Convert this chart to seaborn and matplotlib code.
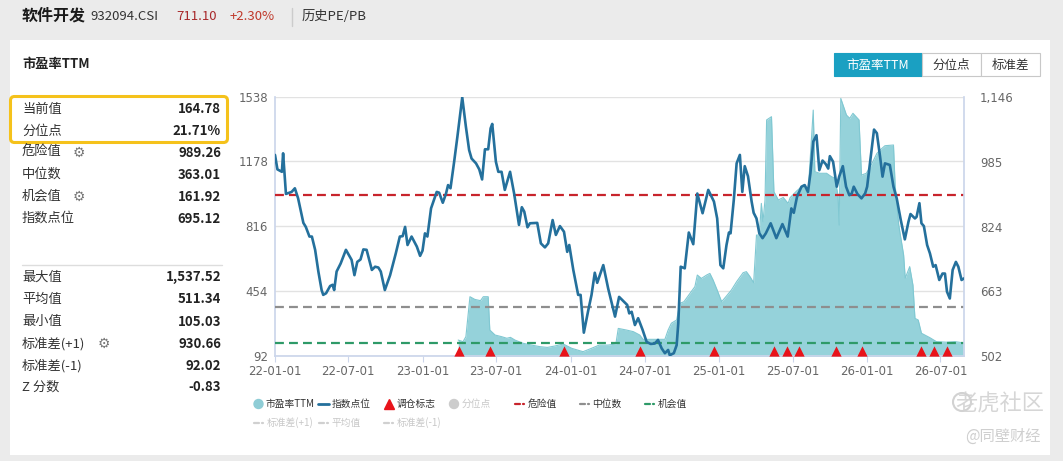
import numpy as np
import pandas as pd
import matplotlib
matplotlib.use("Agg")
import matplotlib.pyplot as plt
import matplotlib.dates as mdates
import matplotlib.transforms as mtransforms
from matplotlib.patches import Rectangle, FancyBboxPatch, Circle
import seaborn as sns

# ---------------- data ----------------
start_date = "2022-01-01"
end_day = 1700  # days after start covered by the x axis

idx_day = [0, 6, 17, 20, 27, 41, 49, 57, 70, 76, 85, 91, 99, 107, 115, 119, 126, 136, 142, 146,
           152, 162, 175, 189, 196, 203, 211, 218, 226, 239, 247, 255, 261, 271, 284, 298, 308, 315,
           321, 327, 337, 350, 358, 364, 370, 376, 385, 399, 405, 414, 422, 427, 433, 442, 450, 462,
           471, 479, 485, 496, 504, 511, 518, 526, 532, 536, 545, 551, 559, 567, 580, 590, 602, 609,
           615, 623, 629, 647, 656, 666, 674, 685, 693, 703, 713, 721, 726, 736, 748, 754, 762, 773,
           781, 789, 795, 810, 822, 839, 849, 861, 869, 874, 880, 888, 896, 907, 917, 927, 937, 945,
           954, 962, 970, 974, 984, 991, 995, 1001, 1011, 1021, 1032, 1042, 1055, 1069, 1083, 1091,
           1099, 1106, 1114, 1120, 1124, 1132, 1139, 1147, 1153, 1159, 1167, 1176, 1181, 1188, 1195,
           1203, 1211, 1223, 1237, 1252, 1265, 1274, 1280, 1288, 1299, 1307, 1315, 1321, 1328, 1336,
           1343, 1351, 1359, 1365, 1369, 1377, 1386, 1392, 1401, 1409, 1417, 1423, 1428, 1437, 1447,
           1456, 1461, 1470, 1478, 1485, 1493, 1499, 1505, 1517, 1526, 1534, 1544, 1554, 1563, 1568,
           1579, 1583, 1590, 1595, 1601, 1609, 1616, 1624, 1630, 1639, 1647, 1653, 1658, 1665, 1672,
           1680, 1686, 1694, 1700]
idx_val = [1002, 966, 960, 1006, 905, 910, 919, 894, 833, 823, 799, 799, 766, 712, 666, 654, 658, 676,
           679, 666, 712, 732, 766, 741, 703, 736, 742, 767, 766, 716, 724, 722, 712, 666, 703, 757,
           799, 800, 823, 778, 799, 774, 751, 764, 807, 799, 869, 910, 908, 883, 906, 927, 919, 985,
           1047, 1145, 1072, 1014, 993, 981, 966, 941, 1016, 1016, 1068, 1079, 985, 960, 960, 915,
           960, 906, 828, 872, 861, 822, 832, 833, 782, 772, 782, 840, 803, 825, 811, 761, 778, 716,
           654, 654, 560, 616, 654, 709, 684, 728, 670, 600, 649, 637, 629, 608, 612, 579, 596, 567,
           537, 532, 533, 542, 521, 509, 517, 504, 509, 529, 583, 724, 720, 809, 780, 906, 857, 915,
           886, 844, 728, 720, 778, 809, 807, 890, 981, 1002, 910, 974, 949, 886, 858, 844, 807, 795,
           807, 832, 795, 830, 799, 869, 858, 898, 923, 927, 910, 956, 1035, 1051, 964, 988, 979, 968,
           999, 985, 923, 948, 974, 923, 902, 906, 923, 905, 894, 906, 923, 997, 1065, 1056, 997, 948,
           981, 977, 923, 894, 840, 792, 836, 855, 844, 848, 882, 832, 825, 778, 757, 724, 728, 691,
           707, 707, 662, 645, 716, 736, 724, 691, 695]

pe_day = [452, 464, 471, 481, 493, 507, 514, 526, 530, 543, 559, 572, 581, 592, 612, 633, 654, 672,
          691, 711, 732, 760, 781, 800, 822, 841, 847, 867, 884, 900, 908, 950, 962, 970, 978, 991,
          999, 1009, 1024, 1036, 1042, 1052, 1065, 1073, 1081, 1091, 1102, 1114, 1126, 1139, 1155,
          1163, 1172, 1181, 1188, 1195, 1200, 1204, 1209, 1213, 1225, 1231, 1242, 1254, 1266, 1271,
          1287, 1304, 1315, 1328, 1332, 1344, 1361, 1373, 1381, 1389, 1392, 1396, 1410, 1418, 1426,
          1441, 1447, 1459, 1471, 1485, 1493, 1505, 1526, 1530, 1539, 1551, 1555, 1566, 1574, 1579,
          1587, 1595, 1616, 1632, 1657, 1678, 1700]
pe_val = [181, 172, 200, 423, 408, 401, 423, 423, 237, 209, 200, 191, 196, 181, 163, 153, 144, 140,
          148, 159, 135, 116, 135, 153, 153, 159, 246, 237, 228, 209, 185, 185, 185, 237, 275, 293,
          386, 395, 442, 479, 544, 525, 544, 553, 516, 460, 395, 427, 460, 507, 557, 563, 535, 501,
          767, 767, 944, 842, 963, 1410, 1428, 1009, 963, 977, 944, 976, 1013, 1047, 991, 1465, 1121,
          1112, 1112, 1093, 1085, 991, 823, 1530, 1437, 1419, 1447, 1410, 1102, 1112, 1158, 1223,
          1242, 1266, 1270, 1047, 823, 656, 526, 591, 488, 302, 293, 219, 194, 172, 169, 172, 165]

trade_day = [454, 530, 713, 900, 1083, 1230, 1264, 1292, 1384, 1448, 1593, 1627, 1658]

danger_val = 989.26
median_val = 363.01
chance_val = 161.92

pe_ticks = [92, 454, 816, 1178, 1538]
idx_ticks = [502, 663, 824, 985, 1146]
idx_tick_labels = ["502", "663", "824", "985", "1,146"]

stats_top = [("当前值", "164.78"), ("分位点", "21.71%"), ("危险值", "989.26"),
             ("中位数", "363.01"), ("机会值", "161.92"), ("指数点位", "695.12")]
stats_bottom = [("最大值", "1,537.52"), ("平均值", "511.34"), ("最小值", "105.03"),
                ("标准差(+1)", "930.66"), ("标准差(-1)", "92.02"), ("Z 分数", "-0.83")]

t0 = pd.Timestamp(start_date)
idx_df = pd.DataFrame({"date": t0 + pd.to_timedelta(idx_day, unit="D"), "value": idx_val})
pe_df = pd.DataFrame({"date": t0 + pd.to_timedelta(pe_day, unit="D"), "pe": pe_val})
trade_dates = t0 + pd.to_timedelta(trade_day, unit="D")

# ---------------- figure ----------------
sns.set_theme(style="white")
plt.rcParams['font.family'] = ['Noto Sans CJK SC', 'DejaVu Sans']

W, H = 1063, 461
fig = plt.figure(figsize=(W / 100, H / 100), dpi=100)
fig.patch.set_facecolor('#ebebeb')

# background/overlay axes in pixel coordinates
bg = fig.add_axes([0, 0, 1, 1], zorder=-1)
bg.set_xlim(0, W)
bg.set_ylim(H, 0)
bg.axis('off')
bg.add_patch(Rectangle((10, 40), 1040, 415, facecolor='white', edgecolor='none'))

TXT = '#333333'
# header
bg.text(22, 16, "软件开发", fontsize=11.5, fontweight='bold', color='#1a1a1a', va='center')
bg.text(90, 17, "932094.CSI", fontsize=9.5, color='#333333', va='center')
bg.text(176, 17, "711.10", fontsize=9.5, color='#a8282a', va='center')
bg.text(230, 17, "+2.30%", fontsize=9.5, color='#c0392b', va='center')
bg.plot([292, 292], [8, 26], color='#cccccc', lw=1)
bg.text(302, 17, "历史PE/PB", fontsize=9.5, color='#333333', va='center')

# panel title
bg.text(22, 64, "市盈率TTM", fontsize=9.5, fontweight='bold', color='#222222', va='center')

# buttons
btns = [("市盈率TTM", 833.5, 921.5, True), ("分位点", 921.5, 980.5, False), ("标准差", 980.5, 1040, False)]
for label, x0, x1, active in btns:
    bg.add_patch(Rectangle((x0, 53.5), x1 - x0, 22.5, facecolor='#1aa0c2' if active else 'white',
                           edgecolor='#1aa0c2' if active else '#c8c8c8', lw=0.8))
    bg.text((x0 + x1) / 2, 65, label, fontsize=9, color='white' if active else '#333333',
            ha='center', va='center')

# highlight box
bg.add_patch(FancyBboxPatch((10.5, 96.5), 217, 46, boxstyle="round,pad=0,rounding_size=4",
                            fill=False, ec='#f5c21b', lw=2.2))

ys_top = [109, 131, 152.5, 174.5, 196.5, 218.5]
ys_bot = [277, 299, 321.5, 343.5, 365.5, 387]
for (lab, val), y in zip(stats_top, ys_top):
    bg.text(22, y, lab, fontsize=9.5, color=TXT, va='center')
    bg.text(221, y, val, fontsize=9.5, color='#222222', fontweight='bold', va='center', ha='right')
for (lab, val), y in zip(stats_bottom, ys_bot):
    bg.text(22, y, lab, fontsize=9.5, color=TXT, va='center')
    bg.text(221, y, val, fontsize=9.5, color='#222222', fontweight='bold', va='center', ha='right')
for gx, gy in [(79, ys_top[2]), (79, ys_top[4]), (104, ys_bot[3])]:
    bg.text(gx, gy, "⚙", fontsize=10, color='#777777', va='center', ha='center', family='DejaVu Sans')
bg.plot([22, 222], [265, 265], color='#dddddd', lw=1)

# ---------------- chart ----------------
ax = fig.add_axes([275 / W, 1 - 356 / H, (964 - 275) / W, (356 - 97) / H])
ax.set_facecolor('white')
ax2 = ax.twinx()

fill_c = '#95d2da'
ax.fill_between(pe_df["date"], pe_df["pe"], 0, color=fill_c, alpha=1.0, lw=0, zorder=1)
sns.lineplot(data=pe_df, x="date", y="pe", ax=ax, color='#80c8d2', lw=0.8, zorder=2)

dash = (0, (4, 2.3))
ax.axhline(danger_val, color='#c8242c', lw=1.6, ls=dash, zorder=3)
ax.axhline(median_val, color='#8e8e8e', lw=1.6, ls=dash, zorder=3)
ax.axhline(chance_val, color='#2e9a68', lw=1.6, ls=dash, zorder=3)

sns.lineplot(data=idx_df, x="date", y="value", ax=ax2, color='#24709c', lw=1.9, zorder=4)

blend = mtransforms.blended_transform_factory(ax2.transData, ax2.transAxes)
ax2.scatter(mdates.date2num(trade_dates), np.full(len(trade_dates), 0.02), transform=blend,
            marker='^', s=55, color='#e8131a', lw=0, zorder=6, clip_on=False)

ax.set_xlim(t0, t0 + pd.Timedelta(days=end_day))
ax.set_ylim(pe_ticks[0], pe_ticks[-1])
ax.set_yticks(pe_ticks)
ax.set_yticklabels([str(v) for v in pe_ticks])
ax2.set_ylim(idx_ticks[0], idx_ticks[-1])
ax2.set_yticks(idx_ticks)
ax2.set_yticklabels(idx_tick_labels)

ax.xaxis.set_major_locator(mdates.MonthLocator(bymonth=[1, 7]))
ax.xaxis.set_major_formatter(mdates.DateFormatter('%y-%m-%d'))

for a in (ax, ax2):
    a.set_xlabel("")
    a.set_ylabel("")
    for s in a.spines.values():
        s.set_visible(False)
    a.grid(False)

ax.yaxis.grid(True, color='#e2e2e2', lw=1)
ax.set_axisbelow(True)
ax.spines['left'].set_visible(True)
ax.spines['left'].set_color('#ccd6eb')
ax.spines['bottom'].set_visible(True)
ax.spines['bottom'].set_color('#ccd6eb')
ax2.spines['right'].set_visible(True)
ax2.spines['right'].set_color('#ccd6eb')

ax.tick_params(axis='y', length=0, pad=5, labelsize=8.5, labelcolor='#666666')
ax2.tick_params(axis='y', length=0, pad=11.5, labelsize=8.5, labelcolor='#666666')
ax.tick_params(axis='x', length=4.5, width=0.8, color='#ccd6eb', pad=2, labelsize=8.5, labelcolor='#666666',
               bottom=True)
for lab in ax.get_xticklabels() + ax.get_yticklabels() + ax2.get_yticklabels():
    lab.set_family('DejaVu Sans')

# ---------------- legend (manual) ----------------
LF = 7.0
ly1, ly2 = 404, 422.5
bg.add_patch(Circle((258.5, ly1), 4.5, color='#8fcdd6'))
bg.text(266, ly1, "市盈率TTM", fontsize=LF, color='#333333', va='center')
bg.plot([318, 329], [ly1, ly1], color='#24709c', lw=2)
bg.text(332, ly1, "指数点位", fontsize=LF, color='#333333', va='center')
bg.plot([389], [ly1], marker='^', color='#e8131a', ms=7, lw=0)
bg.text(397, ly1, "调仓标志", fontsize=LF, color='#333333', va='center')
bg.add_patch(Circle((454, ly1), 4.5, color='#cccccc'))
bg.text(462, ly1, "分位点", fontsize=LF, color='#c8c8c8', va='center')
for x0, c, lab, col in [(515, '#c8242c', "危险值", '#333333'), (580, '#8e8e8e', "中位数", '#333333'),
                        (645, '#2e9a68', "机会值", '#333333')]:
    bg.plot([x0, x0 + 5], [ly1, ly1], color=c, lw=1.6)
    bg.plot([x0 + 8, x0 + 9], [ly1, ly1], color=c, lw=1.6)
    bg.text(x0 + 12.5, ly1, lab, fontsize=LF, color=col, va='center')
for x0, lab in [(254, "标准差(+1)"), (319, "平均值"), (384, "标准差(-1)")]:
    bg.plot([x0, x0 + 5], [ly2, ly2], color='#d0d0d0', lw=1.6)
    bg.plot([x0 + 8, x0 + 9], [ly2, ly2], color='#d0d0d0', lw=1.6)
    bg.text(x0 + 12.5, ly2, lab, fontsize=LF, color='#c8c8c8', va='center')

# watermark
bg.text(1000, 404, "老虎社区", fontsize=16, color='#d2d2d2', ha='center', va='center', alpha=0.9)
bg.add_patch(Circle((962, 402), 9, fill=False, ec='#d2d2d2', lw=1.5))
bg.text(1003, 436, "@同壁财经", fontsize=11, color='#cfcfcf', ha='center', va='center')

fig.savefig("out.png", dpi=100, facecolor=fig.get_facecolor())
